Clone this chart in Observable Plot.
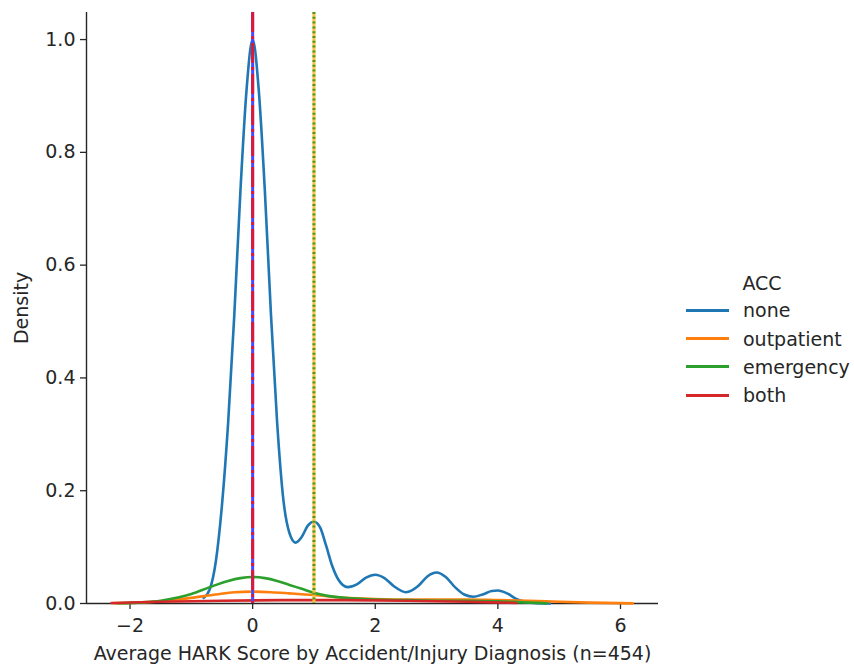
<!DOCTYPE html>
<html>
<head>
<meta charset="utf-8">
<script src="https://cdn.jsdelivr.net/npm/d3@7"></script>
<script src="https://cdn.jsdelivr.net/npm/@observablehq/plot@0.6"></script>
<style>
  body { margin: 0; background: #fff; }
  #wrap { position: relative; width: 854px; height: 667px; font-family: "DejaVu Sans", sans-serif; }
  #legend { position: absolute; left: 686px; top: 272px; font-size: 19px; color: #262626; }
  #legend .title { text-align: center; width: 152px; margin-bottom: 2px; }
  #legend .row { display: flex; align-items: center; height: 28.4px; }
  #legend .sw { width: 43px; height: 3px; margin-right: 14px; }
</style>
</head>
<body>
<div id="wrap"></div>
<script>
// Hue levels and their colours
const categories = ["none", "outpatient", "emergency", "both"];
const colors = ["#1f77b4", "#ff7f0e", "#2ca02c", "#d62728"];

// Kernel density estimates per group (score, density)
const noneX = [-0.80, -0.70, -0.60, -0.50, -0.40, -0.30, -0.20, -0.10, 0.00, 0.10, 0.20, 0.30, 0.40, 0.50, 0.60, 0.70, 0.80, 0.90, 1.00, 1.10, 1.20, 1.30, 1.40, 1.55, 1.70, 1.85, 2.00, 2.15, 2.30, 2.50, 2.70, 2.85, 3.00, 3.15, 3.30, 3.45, 3.60, 3.75, 3.90, 4.00, 4.15, 4.30, 4.45, 4.60, 4.85];
const noneY = [0.010, 0.025, 0.075, 0.175, 0.32, 0.51, 0.73, 0.91, 1.0, 0.91, 0.73, 0.51, 0.32, 0.185, 0.125, 0.108, 0.118, 0.138, 0.145, 0.135, 0.102, 0.066, 0.042, 0.029, 0.034, 0.046, 0.051, 0.045, 0.031, 0.020, 0.031, 0.048, 0.055, 0.047, 0.029, 0.016, 0.012, 0.016, 0.022, 0.023, 0.018, 0.008, 0.003, 0.001, 0.000];

const outpatientX = [-2.25, -1.8, -1.4, -1.0, -0.6, -0.3, 0.0, 0.3, 0.6, 1.0, 1.5, 2.0, 2.5, 3.0, 3.5, 4.0, 4.5, 5.0, 5.5, 6.2];
const outpatientY = [0.0005, 0.002, 0.005, 0.010, 0.016, 0.020, 0.021, 0.020, 0.018, 0.015, 0.010, 0.008, 0.007, 0.007, 0.007, 0.006, 0.005, 0.003, 0.0015, 0.0003];

const emergencyX = [-2.2, -1.8, -1.5, -1.2, -1.0, -0.7, -0.4, -0.2, 0.0, 0.2, 0.4, 0.6, 0.8, 1.0, 1.2, 1.5, 2.0, 2.5, 3.0, 3.5, 4.0, 4.4, 4.8];
const emergencyY = [0.0005, 0.002, 0.005, 0.011, 0.017, 0.029, 0.040, 0.045, 0.047, 0.045, 0.040, 0.033, 0.026, 0.019, 0.014, 0.010, 0.007, 0.006, 0.005, 0.005, 0.004, 0.002, 0.0005];

const bothX = [-2.3, -1.5, -0.5, 0.5, 1.5, 2.5, 3.5, 4.3];
const bothY = [0.001, 0.003, 0.005, 0.006, 0.006, 0.005, 0.003, 0.001];

// Group means marked by vertical reference lines
const meanScore = [0, 1, 1, 0];

const xDomain = [-2.71, 6.62];
const yDomain = [0, 1.048];
const xTicks = [-2, 0, 2, 4, 6];
const yTicks = [0, 0.2, 0.4, 0.6, 0.8, 1.0];

const series = [
  {name: "none", xs: noneX, ys: noneY},
  {name: "outpatient", xs: outpatientX, ys: outpatientY},
  {name: "emergency", xs: emergencyX, ys: emergencyY},
  {name: "both", xs: bothX, ys: bothY}
];
const curves = series.flatMap(s => s.xs.map((x, i) => ({group: s.name, x, y: s.ys[i]})));
const means = categories.map((c, i) => ({group: c, x: meanScore[i]}));

// Reference line styles: solid base, patterned overlay on top
const refStyle = {
  none: {stroke: "#4848ff", dash: null},
  both: {stroke: "#d81b3c", dash: "20,4,3,4"},
  outpatient: {stroke: "#ffbf40", dash: null},
  emergency: {stroke: "#4a9a20", dash: "2,2.8"}
};
const refOrder = ["none", "both", "outpatient", "emergency"];

const fmtX = d => (d < 0 ? "\u2212" + Math.abs(d) : String(d));
const ink = "#262626";

const chart = Plot.plot({
  width: 854,
  height: 667,
  marginLeft: 86,
  marginRight: 196,
  marginTop: 12,
  marginBottom: 64,
  style: {fontFamily: "DejaVu Sans, sans-serif", fontSize: "19px", color: ink, background: "#fff"},
  x: {domain: xDomain},
  y: {domain: yDomain},
  color: {domain: categories, range: colors},
  marks: [
    Plot.axisX({ticks: xTicks, tickFormat: fmtX, tickSize: 6, tickPadding: 9, label: "Average HARK Score by Accident/Injury Diagnosis (n=454)", labelAnchor: "center", labelArrow: "none", labelOffset: 56, fontSize: 19, stroke: ink, strokeWidth: 1.3}),
    Plot.axisY({ticks: yTicks, tickFormat: d3.format(".1f"), tickSize: 6, tickPadding: 5, label: "Density", labelAnchor: "center", labelArrow: "none", labelOffset: 72, fontSize: 19, stroke: ink, strokeWidth: 1.3}),
    // left and bottom spines
    Plot.ruleX([xDomain[0]], {stroke: ink, strokeWidth: 1.4}),
    Plot.ruleY([yDomain[0]], {stroke: ink, strokeWidth: 1.4}),
    Plot.line(curves, {x: "x", y: "y", z: "group", stroke: "group", strokeWidth: 2.6, curve: "monotone-x"}),
    ...refOrder.map(g => Plot.ruleX(means.filter(d => d.group === g), {
      x: "x",
      stroke: refStyle[g].stroke,
      strokeWidth: 3,
      strokeDasharray: refStyle[g].dash
    }))
  ]
});

const wrap = document.getElementById("wrap");
wrap.appendChild(chart);

// Legend at the right of the axes
const legend = document.createElement("div");
legend.id = "legend";
const title = document.createElement("div");
title.className = "title";
title.textContent = "ACC";
legend.appendChild(title);
categories.forEach((c, i) => {
  const row = document.createElement("div");
  row.className = "row";
  const sw = document.createElement("div");
  sw.className = "sw";
  sw.style.background = colors[i];
  const label = document.createElement("span");
  label.textContent = c;
  row.appendChild(sw);
  row.appendChild(label);
  legend.appendChild(row);
});
wrap.appendChild(legend);
</script>
</body>
</html>
